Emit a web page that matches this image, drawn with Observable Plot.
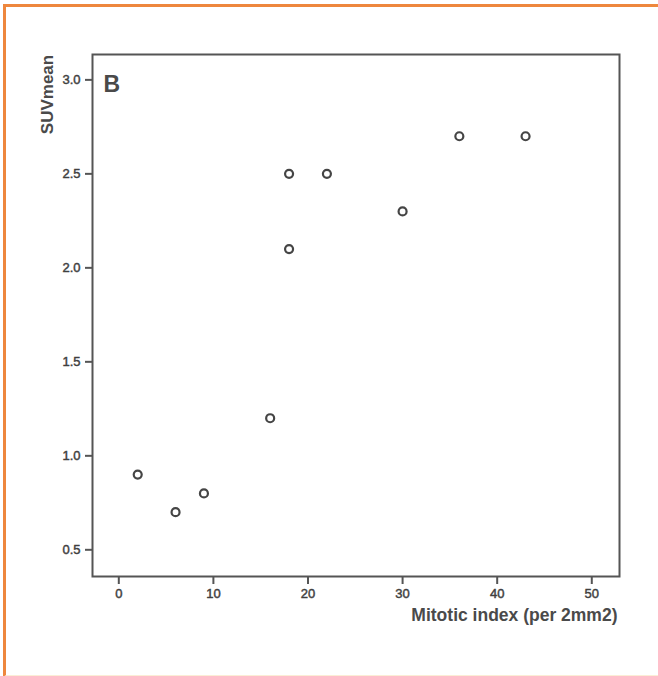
<!DOCTYPE html>
<html>
<head>
<meta charset="utf-8">
<script src="https://cdn.jsdelivr.net/npm/d3@7"></script>
<script src="https://cdn.jsdelivr.net/npm/@observablehq/plot@0.6"></script>
<style>
  html, body { margin: 0; padding: 0; background: white; }
  #wrap { position: relative; width: 658px; height: 676px; overflow: hidden; }
  #border { position: absolute; left: 3px; top: 4px; width: 720px; height: 668px;
            border-top: 3px solid #ee873d; border-left: 3px solid #ee873d;
            border-bottom: 2px solid #fbeed6; pointer-events: none; z-index: 2; }
  #chart { position: absolute; left: 0; top: 0; }
  #chart g[aria-label$="tick label"] text { stroke: #404040; stroke-width: 0.45px; }
</style>
</head>
<body>
<div id="wrap"><div id="border"></div><div id="chart"></div></div>
<script>
const mitotic = [2, 6, 9, 16, 18, 18, 22, 30, 36, 43];
const suvMean = [0.9, 0.7, 0.8, 1.2, 2.1, 2.5, 2.5, 2.3, 2.7, 2.7];
const xTicks = [0, 10, 20, 30, 40, 50];
const yTicks = [0.5, 1.0, 1.5, 2.0, 2.5, 3.0];
const xLabel = "Mitotic index (per 2mm2)";
const yLabel = "SUVmean";
const panelLabel = "B";

const data = mitotic.map((m, i) => ({m, s: suvMean[i]}));
const ink = "#404040";
const font = "'Liberation Sans', Arial, sans-serif";

const chart = Plot.plot({
  width: 658,
  height: 676,
  marginLeft: 92,
  marginRight: 39,
  marginTop: 54,
  marginBottom: 100,
  style: {fontFamily: font, fontSize: "13px", background: "white", color: ink},
  x: {domain: [-2.78, 52.93]},
  y: {domain: [0.358, 3.135]},
  marks: [
    Plot.frame({stroke: "#555", strokeWidth: 2}),
    Plot.axisX({ticks: xTicks, tickSize: 8, tickPadding: 4, fontSize: 13, strokeWidth: 2, stroke: "#555", fill: ink, label: null}),
    Plot.axisY({ticks: yTicks, tickFormat: d3.format(".1f"), tickSize: 7, tickPadding: 5, fontSize: 13, strokeWidth: 2, stroke: "#555", fill: ink, label: null}),
    Plot.dot(data, {x: "m", y: "s", r: 4, stroke: "#454545", strokeWidth: 2.2, fill: "white"}),
    Plot.text([panelLabel], {frameAnchor: "top-left", dx: 11, dy: 21, textAnchor: "start", fontSize: 23, fontWeight: "bold", fill: "#4a4a4a"}),
    Plot.text([xLabel], {frameAnchor: "bottom-right", dx: -2, dy: 44, textAnchor: "end", fontSize: 17.5, fontWeight: "bold", fill: "#4a4a4a"}),
    Plot.text([yLabel], {frameAnchor: "top-left", dx: -52, dy: 40, rotate: -90, textAnchor: "middle", fontSize: 17, fontWeight: "bold", fill: "#4a4a4a"})
  ]
});
document.getElementById("chart").appendChild(chart);
</script>
</body>
</html>
